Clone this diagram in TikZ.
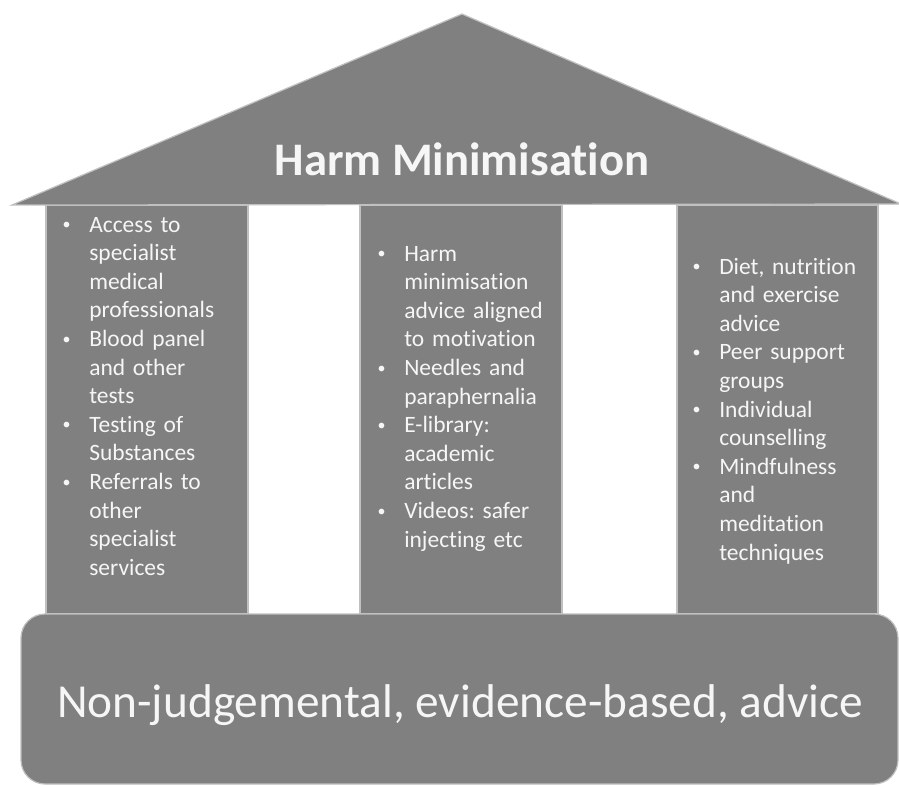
\documentclass[tikz,border=0pt]{standalone}
\usepackage{fontspec}
\setmainfont{Carlito}[Ligatures=NoCommon]
\usepackage{tikz}

\definecolor{slate}{RGB}{128,128,128}
\definecolor{rim}{RGB}{192,192,192}
\definecolor{chalk}{RGB}{246,246,246}
\tikzset{
  block/.style={fill=slate, draw=rim, line width=0.9pt},
  points/.style={anchor=base west, align=left, text=chalk, inner sep=0pt,
    text width=150pt, font=\fontsize{17.6}{21.45}\selectfont\frenchspacing},
  heading/.style={anchor=base, text=chalk, inner sep=0pt},
}
\newcommand{\bul}{\leavevmode\llap{\raisebox{1.8pt}{\fontsize{12}{12}\selectfont\textbullet}\hspace{14pt}}}

\begin{document}
\begin{tikzpicture}[x=0.75pt, y=-0.75pt]
\useasboundingbox (0,0) rectangle (899,785);
\draw[block] (46,205) rectangle (248,614) ; % pillar.1
\draw[block] (360,205) rectangle (562,614) ; % pillar.2
\draw[block] (677,205) rectangle (878,614) ; % pillar.3
\draw[block, rounded corners=18pt] (21,614) rectangle (898,784) ; % base
\draw[block] (12,205) -- (462,14) -- (901,204) -- cycle ; % roof

\node[heading, font=\fontsize{35}{42}\selectfont\bfseries] (roof) at (462,175) {Harm Minimisation}; % roof
\node[heading, font=\fontsize{35.5}{42}\selectfont] (base) at (460,717) {Non-judgemental, evidence-based, advice}; % base

\node[points] (medical) at (89,232) {\bul Access to\\ specialist\\ medical\\ professionals\\
  \bul Blood panel\\ and other\\ tests\\
  \bul Testing of\\ Substances\\
  \bul Referrals to\\ other\\ specialist\\ services}; % pillar.1
\node[points] (supplies) at (404,261) {\bul Harm\\ minimisation\\ advice aligned\\ to motivation\\
  \bul Needles and\\ paraphernalia\\
  \bul E-library:\\ academic\\ articles\\
  \bul Videos: safer\\ injecting etc}; % pillar.2
\node[points] (support) at (719,274) {\bul Diet, nutrition\\ and exercise\\ advice\\
  \bul Peer support\\ groups\\
  \bul Individual\\ counselling\\
  \bul Mindfulness\\ and\\ meditation\\ techniques}; % pillar.3
\end{tikzpicture}
\end{document}
